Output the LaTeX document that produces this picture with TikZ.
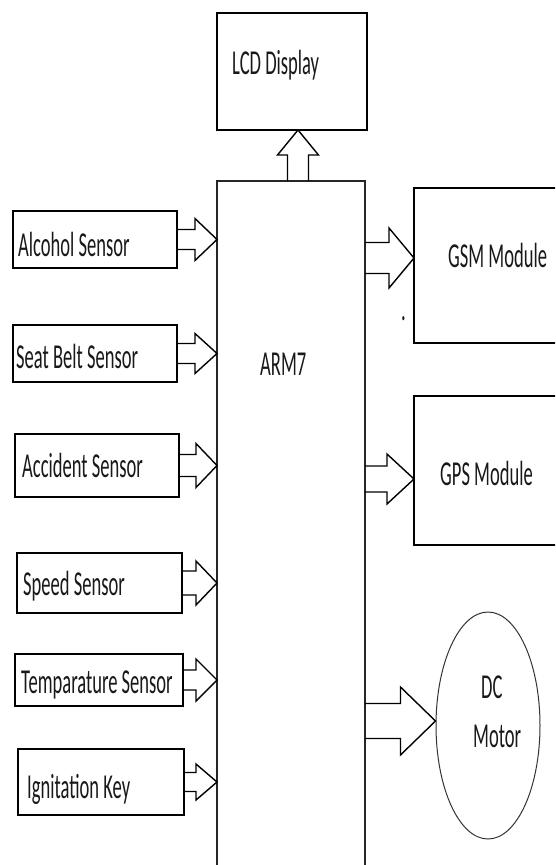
\documentclass[tikz,border=0pt]{standalone}
\usepackage{fontspec}
\setmainfont{Carlito}[FakeStretch=0.53]
\usetikzlibrary{calc,shapes.geometric}
\tikzset{
  box/.style={draw=black, line width=1.6pt, inner sep=0pt, outer sep=0pt},
  thinbox/.style={draw=black!85, line width=1.1pt, inner sep=0pt, outer sep=0pt},
  lbl/.style={inner sep=0pt, anchor=base west, text=black!90, font=\fontsize{35}{40}\selectfont},
  blk/.style={draw=black, line width=1.4pt, line join=miter},
}
% #1 start, #2 tip, #3 shaft half width, #4 head half width, #5 head length
\newcommand\harrow[5]{%
  \draw[blk] ($(#1)+(0,-#3)$) -- ($(#2)+(-#5,-#3)$) -- ($(#2)+(-#5,-#4)$) -- (#2)
    -- ($(#2)+(-#5,#4)$) -- ($(#2)+(-#5,#3)$) -- ($(#1)+(0,#3)$);}
\begin{document}
\begin{tikzpicture}[x=1pt,y=-1pt]
\useasboundingbox (0,0) rectangle (555,865);
\clip (0,0) rectangle (555,865);
\fill[white] (0,0) rectangle (555,865);

% boxes
\node[box, minimum width=150pt, minimum height=117pt] (lcd) at (292,71.5) {};
\node[thinbox, minimum width=148pt, minimum height=689pt] (arm) at (291,525.5) {};
\node[box, minimum width=164pt, minimum height=57pt] (alc) at (95,239.5) {};
\node[box, minimum width=164pt, minimum height=57pt] (seat) at (95,353.5) {};
\node[box, minimum width=164pt, minimum height=63pt] (acc) at (97,465.5) {};
\node[box, minimum width=165pt, minimum height=60pt] (spd) at (99.5,583) {};
\node[box, minimum width=168pt, minimum height=52pt] (tmp) at (99,680) {};
\node[box, minimum width=166pt, minimum height=66pt] (ign) at (101,782) {};
\node[box, minimum width=146pt, minimum height=155pt] (gsm) at (487,265.5) {};
\node[box, minimum width=146pt, minimum height=149pt] (gps) at (487,470.5) {};
\node[ellipse, draw=black!80, line width=1pt, inner sep=0pt, minimum width=104pt, minimum height=227pt] (dc) at (488,725.5) {};

% labels
\node[lbl] (tlcd) at (232,74) {LCD Display};
\node[lbl] (tarm) at (260,375) {ARM7};
\node[lbl] (talc) at (18,256) {Alcohol Sensor};
\node[lbl] (tseat) at (16,368) {Seat Belt Sensor};
\node[lbl] (tacc) at (22,477) {Accident Sensor};
\node[lbl] (tspd) at (23,595) {Speed Sensor};
\node[lbl] (ttmp) at (21,693) {Temparature Sensor};
\node[lbl] (tign) at (27,798) {Ignitation Key};
\node[lbl] (tgsm) at (448,267) {GSM Module};
\node[lbl] (tgps) at (440,485) {GPS Module};
\node[lbl] (tdc) at (481,698) {DC};
\node[lbl] (tmot) at (473,747) {Motor};
\node[lbl] (tdot) at (401,320) {.};

% input arrows
\harrow{alc.east}{arm.west |- alc.east}{10}{21}{22}
\harrow{seat.east}{arm.west |- seat.east}{10}{20}{22}
\harrow{acc.east}{arm.west |- acc.east}{11}{22}{21}
\harrow{spd.east}{arm.west |- spd.east}{12}{22}{21}
\harrow{tmp.east}{arm.west |- tmp.east}{10}{21}{21}
\harrow{ign.east}{arm.west |- ign.east}{9.5}{18}{21}

% output arrows
\coordinate (ygsm) at (0,258);
\coordinate (ygps) at (0,479);
\coordinate (ydc) at (0,721);
\coordinate (xup) at (298,0);
\harrow{arm.east |- ygsm}{gsm.west |- ygsm}{15.5}{30}{25}
\harrow{arm.east |- ygps}{gps.west |- ygps}{13}{25}{27}
\harrow{arm.east |- ydc}{dc.west |- ydc}{17.5}{34}{35}

% up arrow to LCD
\coordinate (upbase) at (xup |- arm.north);
\coordinate (uptip) at (xup |- lcd.south);
\draw[blk] ($(upbase)+(-10.5,0)$) -- ($(uptip)+(-10.5,25)$) -- ($(uptip)+(-20.5,25)$) -- (uptip)
  -- ($(uptip)+(20.5,25)$) -- ($(uptip)+(10.5,25)$) -- ($(upbase)+(10.5,0)$);
\end{tikzpicture}
\end{document}
